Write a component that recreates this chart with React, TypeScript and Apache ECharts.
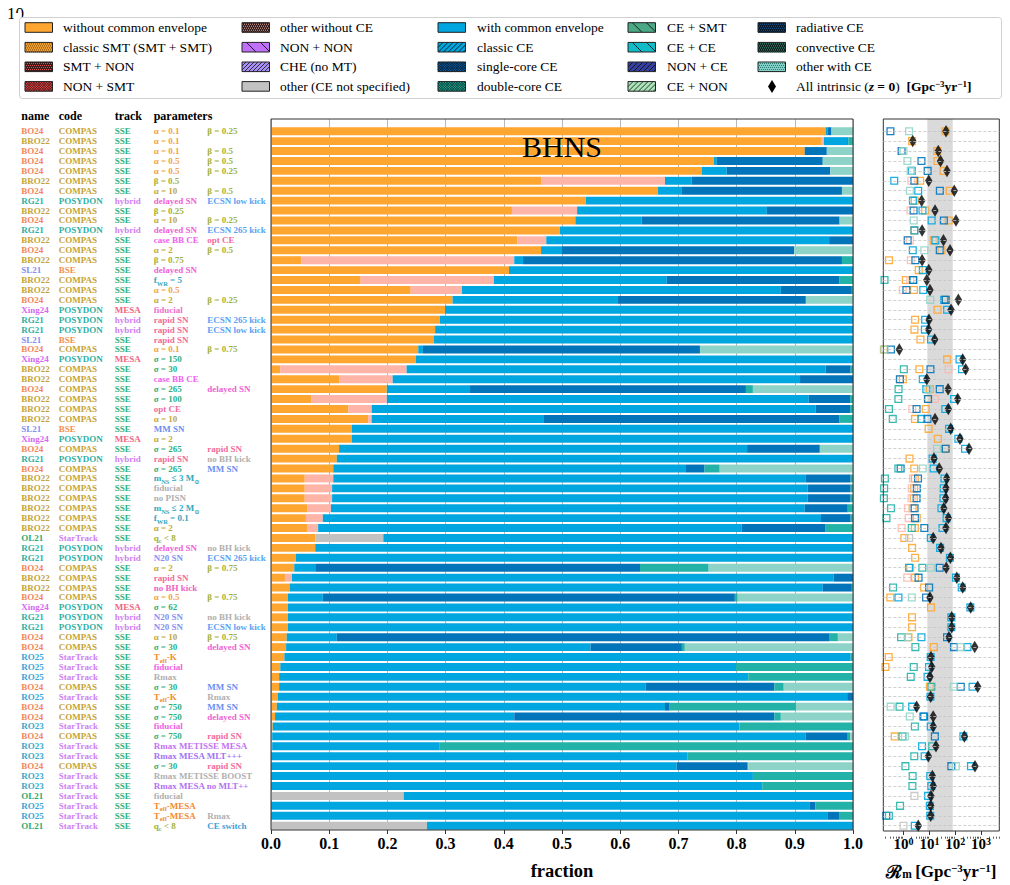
import React, { useEffect, useRef } from "react";
import * as echarts from "echarts";

// ---------------- data ----------------
const names = ["BO24","BRO22","BO24","BO24","BO24","BRO22","BO24","RG21","BRO22","BO24",
  "RG21","BRO22","BO24","BRO22","SL21","BRO22","BRO22","BO24","Xing24","RG21",
  "RG21","SL21","BO24","Xing24","BRO22","BRO22","BO24","BRO22","BRO22","BRO22",
  "SL21","Xing24","BO24","RG21","BO24","BRO22","BRO22","BRO22","BRO22","BRO22",
  "BRO22","OL21","RG21","RG21","BO24","BRO22","BRO22","BO24","Xing24","RG21",
  "RG21","BO24","BO24","RO25","RO25","RO25","BO24","RO25","BO24","BO24",
  "RO23","BO24","RO23","RO23","BO24","RO23","RO23","OL21","RO25","RO25","OL21"];

const codeOf: Record<string, string> = { BO24: "COMPAS", BRO22: "COMPAS", RG21: "POSYDON", Xing24: "POSYDON", SL21: "BSE", OL21: "StarTrack", RO25: "StarTrack", RO23: "StarTrack" };
const trackOf: Record<string, string> = { BO24: "SSE", BRO22: "SSE", RG21: "hybrid", Xing24: "MESA", SL21: "SSE", OL21: "SSE", RO25: "SSE", RO23: "SSE" };

const param1 = ["α = 0.1","α = 0.1","α = 0.1","α = 0.5","α = 0.5","β = 0.5","α = 10","delayed SN","β = 0.25","α = 10",
  "delayed SN","case BB CE","α = 2","β = 0.75","delayed SN","f_{WR} = 5","α = 0.5","α = 2","fiducial","rapid SN",
  "rapid SN","rapid SN","α = 0.1","σ = 150","σ = 30","case BB CE","σ = 265","σ = 100","opt CE","α = 10",
  "MM SN","α = 2","σ = 265","rapid SN","σ = 265","m_{NS} ≤ 3 M_{⊙}","fiducial","no PISN","m_{NS} ≤ 2 M_{⊙}","f_{WR} = 0.1",
  "α = 2","q_{c} < 8","delayed SN","N20 SN","α = 2","rapid SN","no BH kick","α = 0.5","σ = 62","N20 SN",
  "N20 SN","α = 10","σ = 30","T_{eff}-K","fiducial","Rmax","σ = 30","T_{eff}-K","σ = 750","σ = 750",
  "fiducial","σ = 750","Rmax METISSE MESA","Rmax MESA MLT+++","σ = 30","Rmax METISSE BOOST","Rmax MESA no MLT++","fiducial","T_{eff}-MESA","T_{eff}-MESA","q_{c} < 8"];

const param2 = ["β = 0.25","","β = 0.5","β = 0.5","β = 0.25","","β = 0.5","ECSN low kick","","β = 0.25",
  "ECSN 265 kick","opt CE","β = 0.5","","","","","β = 0.25","","ECSN 265 kick",
  "ECSN low kick","","β = 0.75","","","","delayed SN","","","",
  "","","rapid SN","no BH kick","MM SN","","","","","",
  "","","no BH kick","ECSN 265 kick","β = 0.75","","","β = 0.75","","no BH kick",
  "ECSN low kick","β = 0.75","delayed SN","","","","MM SN","Rmax","MM SN","delayed SN",
  "","rapid SN","","","rapid SN","","","","","Rmax","CE switch"];

// fractions of each formation channel (stacked bars)
const fracNoCE = [0.953,0.945,0.917,0.761,0.740,0.465,0.665,0.541,0.414,0.523,
  0.496,0.423,0.464,0.052,0.409,0.154,0.240,0.312,0.299,0.290,
  0.282,0.280,0.253,0.249,0.016,0.118,0.199,0.069,0.133,0.167,
  0.139,0.139,0.117,0.113,0.107,0.058,0.058,0.058,0.062,0.060,
  0.062,0.076,0.076,0.043,0.040,0.024,0.032,0.029,0.029,0.029,
  0.029,0.027,0.026,0.023,0.016,0.014,0.014,0.012,0.010,0.007,
  0.003,0.002,0,0,0,0,0,0,0,0,0];
const fracOtherNoCE = [0,0.005,0,0,0,0.212,0,0,0.112,0,
  0,0.050,0,0.366,0,0.229,0.088,0,0,0,
  0,0,0,0,0.217,0.091,0,0.130,0.040,0.006,
  0,0,0,0,0,0.049,0.047,0.047,0.041,0.029,
  0.019,0,0,0,0,0.012,0,0,0,0,
  0,0,0,0,0,0,0,0,0,0,
  0,0,0,0,0,0,0,0,0,0,0];
const fracUnspecCE = [0,0,0,0,0,0,0,0,0,0,
  0,0,0,0,0,0,0,0,0,0,
  0,0,0,0,0,0,0,0,0,0,
  0,0,0,0,0,0,0,0,0,0,
  0,0.117,0,0,0,0,0,0,0,0,
  0,0,0,0,0,0,0,0,0,0,
  0,0,0.002,0,0,0,0,0.228,0,0,0.268];
const fracWithCE = [0.003,0.040,0,0.005,0.043,0.046,0.040,0.459,0.326,0.114,
  0.504,0.486,0.036,0.015,0.591,0.297,0.548,0.283,0.701,0.710,
  0.718,0.720,0.008,0.751,0.720,0.700,0.143,0.725,0.763,0.296,
  0.861,0.861,0.701,0.887,0.606,0.812,0.817,0.817,0.814,0.856,
  0.728,0.807,0.924,0.957,0.036,0.931,0.916,0.060,0.971,0.971,
  0.971,0.086,0.523,0.973,0.783,0.806,0.630,0.978,0.667,0.411,
  0.802,0.917,0.288,0.716,0.697,0.828,0.844,0.772,0.926,0.957,0.732];
const fracSingleCore = [0.007,0.002,0.038,0.182,0.178,0.277,0.276,0,0.148,0.340,
  0,0.041,0.399,0.548,0,0.297,0.122,0.324,0,0,
  0,0,0.476,0,0.043,0.091,0.474,0.071,0.059,0.508,
  0,0,0.125,0,0.032,0.077,0.074,0.074,0.074,0.051,
  0.144,0,0,0,0.558,0.033,0.050,0.708,0,0,
  0,0.847,0.157,0,0,0,0.221,0.010,0.008,0.447,
  0,0.072,0,0,0.121,0,0,0,0.009,0.019,0];
const fracCECE = [0,0.008,0,0,0,0,0,0,0,0,
  0,0,0,0.019,0,0.023,0.002,0,0,0,
  0,0,0,0,0.004,0,0.012,0.005,0.005,0.023,
  0,0,0,0,0.026,0.004,0.004,0.004,0.009,0.004,
  0.047,0,0,0,0.118,0,0.002,0.005,0,0,
  0,0.014,0.005,0.004,0.201,0.180,0.016,0,0.217,0.011,
  0.195,0.004,0.710,0.284,0.002,0.172,0.156,0,0.065,0.024,0];
const fracOtherCE = [0.037,0,0.045,0.052,0.039,0,0.019,0,0,0.023,
  0,0,0.101,0,0,0,0,0.081,0,0,
  0,0,0.263,0,0,0,0.172,0,0,0,
  0,0,0.057,0,0.229,0,0,0,0,0,
  0,0,0,0,0.248,0,0,0.198,0,0,
  0,0.026,0.289,0,0,0,0.119,0,0.098,0.124,
  0,0.005,0,0,0.180,0,0,0,0,0,0];

// all intrinsic merger rate at z = 0 [Gpc^-3 yr^-1]
const intrinsicRate = [44,2.25,22,27,48,9.4,92,5.0,16.5,107,
  5.2,35,63,5.2,9.4,7.9,10.5,132,69,9.6,
  9.3,16,0.68,195,255,7.9,53,125,54,16.5,
  67,153,343,15,24,47,44,43,36,54,
  44,14,28,65,45,115,195,10.5,398,73,
  73,57,570,11.5,12.3,10.5,745,11.2,3.2,14,
  14,226,18,9.1,585,13,14,11.5,11.2,11.2,3.7];

const bandRange = [8.3, 80];
const fracTicks = [0, 1];
const rateMajorTicks = [1, 10, 100, 1000];
const rateMinorTicks = [0.2,0.3,0.4,0.5,0.6,0.7,0.8,0.9,2,3,4,5,6,7,8,9,20,30,40,50,60,70,80,90,200,300,400,500,600,700,800,900,2000,3000,4000,5000];

// ---------------- styling ----------------
const FONT = "'Liberation Serif', 'DejaVu Serif', serif";
const channels = [
  { name: "without common envelope", data: fracNoCE, color: "#ffa630", op: 0.9 },
  { name: "other without CE", data: fracOtherNoCE, color: "#ffb4a8", op: 0.8 },
  { name: "other (CE not specified)", data: fracUnspecCE, color: "#c2c2c2", op: 0.85 },
  { name: "with common envelope", data: fracWithCE, color: "#00a6e0", op: 0.9 },
  { name: "single-core CE", data: fracSingleCore, color: "#0274ba", op: 0.9 },
  { name: "CE + CE", data: fracCECE, color: "#22b2a8", op: 0.9 },
  { name: "other with CE", data: fracOtherCE, color: "#8dd3c7", op: 0.85 },
];

const nameColor: Record<string, string> = { BO24: "#f4845c", BRO22: "#c4a43a", RG21: "#2fb0a6", SL21: "#7f8ff2", Xing24: "#d468f2", OL21: "#2eaa6e", RO25: "#3ea3d6", RO23: "#3ea6c8" };
const codeColor: Record<string, string> = { COMPAS: "#c4a43a", POSYDON: "#2fb0a6", BSE: "#f5904e", StarTrack: "#cf7ff2" };
const trackColor: Record<string, string> = { SSE: "#2eb07e", hybrid: "#cf7ff2", MESA: "#f2637e" };
const p1Color: Record<string, string> = {
  "α = 0.1": "#f5a23c", "α = 0.5": "#f5a23c", "α = 2": "#c2a83a", "α = 10": "#c2a83a",
  "delayed SN": "#f062d6", "rapid SN": "#f26c9c", "MM SN": "#6a8ff2", "N20 SN": "#8a8ff2",
  "case BB CE": "#f062f0", "opt CE": "#f26aa2", "no PISN": "#b0b0b0", "no BH kick": "#f062c6",
  "fiducial": "#b0b0b0", "Rmax": "#b0b0b0", "Rmax METISSE MESA": "#c272f2", "Rmax MESA MLT+++": "#a472f2",
  "Rmax METISSE BOOST": "#b0b0b0", "Rmax MESA no MLT++": "#b472f2",
};
const fiducialColor: Record<string, string> = { Xing24: "#f070d0", RO25: "#f062e2", RO23: "#f062e2" };
const p2Color: Record<string, string> = {
  "ECSN low kick": "#5aa2f2", "ECSN 265 kick": "#5aa2f2", "opt CE": "#f26aa2", "delayed SN": "#f062d6",
  "rapid SN": "#f26c9c", "MM SN": "#6a8ff2", "no BH kick": "#b0b0b0", "Rmax": "#b0b0b0", "CE switch": "#3aa2d8",
};
function colorP1(name: string, t: string) {
  if (t === "fiducial" && fiducialColor[name]) return fiducialColor[name];
  if (p1Color[t]) return p1Color[t];
  if (t.startsWith("β") || t.startsWith("q_")) return "#a3b23c";
  if (t.startsWith("σ")) return "#2eb07e";
  if (t.startsWith("f_") || t.startsWith("m_")) return "#2fa9bf";
  if (t.startsWith("T_")) return "#f28a2e";
  return "#888";
}
function colorP2(t: string) {
  if (p2Color[t]) return p2Color[t];
  if (t.startsWith("β")) return "#a3b23c";
  return "#888";
}

// geometry
const L_LEFT = 271, L_W = 582;
const R_LEFT = 883.3, R_W = 116;
const FRAME_TOP = 119, FRAME_H = 717.7;
const BAR_TOP = 126.24, BAR_H = 704.4;
const R_MIN = 0.163, R_MAX = 5117;

function cellText(text: string, color: string, size: number, x: number, y: number) {
  const parts: string[] = [];
  const re = /_\{([^}]*)\}/g;
  let last = 0;
  let m: RegExpExecArray | null;
  while ((m = re.exec(text))) {
    if (m.index > last) parts.push(`{m|${text.slice(last, m.index)}}`);
    parts.push(`{s|${m[1]}}`);
    last = re.lastIndex;
  }
  if (last < text.length) parts.push(`{m|${text.slice(last)}}`);
  return {
    type: "text", x, y, silent: true, z: 10,
    style: {
      text: parts.join(""), fill: color, fontSize: size, fontWeight: "bold", fontFamily: FONT,
      align: "left", verticalAlign: "middle",
      rich: {
        m: { fill: color, fontSize: size, fontWeight: "bold", fontFamily: FONT, lineHeight: 12, verticalAlign: "middle" },
        s: { fill: color, fontSize: size * 0.72, fontWeight: "bold", fontFamily: FONT, lineHeight: 7, verticalAlign: "bottom" },
      },
    },
  };
}

function hatch(x: number, y: number, w: number, h: number, dir: string, step: number, color: string, lw: number) {
  const out: any[] = [];
  for (let t = -h; t < w; t += step) {
    const lo = Math.max(0, -t), hi = Math.min(h, w - t);
    if (hi <= lo) continue;
    if (dir === "/") out.push({ type: "line", silent: true, z: 10, shape: { x1: x + t + lo, y1: y + h - lo, x2: x + t + hi, y2: y + h - hi }, style: { stroke: color, lineWidth: lw } });
    else out.push({ type: "line", silent: true, z: 10, shape: { x1: x + t + lo, y1: y + lo, x2: x + t + hi, y2: y + hi }, style: { stroke: color, lineWidth: lw } });
  }
  return out;
}
function dots(x: number, y: number, w: number, h: number, color: string) {
  const out: any[] = [];
  let k = 0;
  for (let yy = y + 1.5; yy < y + h; yy += 2, k++) {
    out.push({ type: "line", silent: true, z: 10, shape: { x1: x, y1: yy, x2: x + w, y2: yy }, style: { stroke: color, lineWidth: 1, lineDash: [1, 1], lineDashOffset: k % 2 } });
  }
  return out;
}

const legendCols = [
  [
    { label: "without common envelope", fill: "#ffa630" },
    { label: "classic SMT (SMT + SMT)", fill: "#f0a030", dots: "#7a4608" },
    { label: "SMT + NON", fill: "#3b1a1a", dots: "#e05050" },
    { label: "NON + SMT", fill: "#e84848", cross: "#3a1010" },
  ],
  [
    { label: "other without CE", fill: "#2a1c1c", dots: "#f0a898" },
    { label: "NON + NON", fill: "#c070f8", back: "#111", step: 14 },
    { label: "CHE (no MT)", fill: "#a890f8", fwd: "#222", step: 4 },
    { label: "other (CE not specified)", fill: "#c2c2c2" },
  ],
  [
    { label: "with common envelope", fill: "#00a6e0" },
    { label: "classic CE", fill: "#00a6e0", fwd: "#111", step: 5 },
    { label: "single-core CE", fill: "#0a5a9a", cross: "#021a30" },
    { label: "double-core CE", fill: "#20a898", cross: "#06302a" },
  ],
  [
    { label: "CE + SMT", fill: "#4aa884", back: "#111", step: 14 },
    { label: "CE + CE", fill: "#10bcc8", back: "#111", step: 14 },
    { label: "NON + CE", fill: "#3440a0", fwd: "#111", step: 5 },
    { label: "CE + NON", fill: "#a8e4b8", fwd: "#222", step: 5 },
  ],
  [
    { label: "radiative CE", fill: "#061426", dots: "#1a6aa8" },
    { label: "convective CE", fill: "#0e1e1a", dots: "#40a090" },
    { label: "other with CE", fill: "#80d0c8", dots: "#2a7a70" },
    { label: "__diamond__", fill: "" },
  ],
];
const legSwatchX = [25, 242, 438, 628, 758];
const legTextX = [63, 280, 477, 667, 796];
const legRowY = [27.5, 47.2, 66.8, 86.4];

function buildGraphics(rowY: number[]) {
  const els: any[] = [];
  // stray offset text at the top-left, partly hidden by the legend frame
  els.push({ type: "text", x: 7, y: 5, silent: true, z: 9, style: { text: "10", fontSize: 17, fontFamily: FONT, fill: "#000" } });
  els.push({ type: "rect", silent: true, z: 9, shape: { x: 13.5, y: 13, width: 8, height: 6 }, style: { fill: "#fff" } });
  els.push({ type: "rect", silent: true, z: 10, shape: { x: 19.5, y: 17.5, width: 982, height: 81, r: 3 }, style: { fill: "#fff", stroke: "#d0d0d0", lineWidth: 1 } });
  legendCols.forEach((col, ci) => {
    col.forEach((e: any, ri) => {
      const cy = legRowY[ri];
      const sx = legSwatchX[ci], sw = 27.5, sh = 9.6, sy = cy - sh / 2;
      if (e.label === "__diamond__") {
        const dx = sx + 14;
        els.push({ type: "polygon", silent: true, z: 10, shape: { points: [[dx, cy - 6.5], [dx + 4, cy], [dx, cy + 6.5], [dx - 4, cy]] }, style: { fill: "#000" } });
        els.push({
          type: "text", x: legTextX[ci], y: cy, silent: true, z: 10,
          style: {
            text: "All intrinsic ({i|z} {b|= 0})  {b|[Gpc}{p|−3}{b|yr}{p|−1}{b|]}", fontSize: 13.5, fontFamily: FONT, fill: "#000", verticalAlign: "middle",
            rich: {
              i: { fontSize: 13.5, fontFamily: FONT, fontWeight: "bold", fontStyle: "italic", fill: "#000" },
              b: { fontSize: 13.5, fontFamily: FONT, fontWeight: "bold", fill: "#000" },
              p: { fontSize: 9, fontFamily: FONT, fontWeight: "bold", fill: "#000", verticalAlign: "top" },
            },
          },
        });
        return;
      }
      els.push({ type: "rect", silent: true, z: 10, shape: { x: sx, y: sy, width: sw, height: sh }, style: { fill: e.fill } });
      if (e.dots) els.push(...dots(sx, sy, sw, sh, e.dots));
      if (e.cross) { els.push(...hatch(sx, sy, sw, sh, "/", 2.5, e.cross, 0.7)); els.push(...hatch(sx, sy, sw, sh, "\\", 2.5, e.cross, 0.7)); }
      if (e.fwd) els.push(...hatch(sx, sy, sw, sh, "/", e.step, e.fwd, 0.9));
      if (e.back) els.push(...hatch(sx, sy, sw, sh, "\\", e.step, e.back, 0.9));
      els.push({ type: "rect", silent: true, z: 10, shape: { x: sx, y: sy, width: sw, height: sh }, style: { fill: "none", stroke: "#222", lineWidth: 1 } });
      els.push({ type: "text", x: legTextX[ci], y: cy, silent: true, z: 10, style: { text: e.label, fontSize: 13.5, fontFamily: FONT, fill: "#000", verticalAlign: "middle" } });
    });
  });
  // title inside panel (drawn above the bars)
  els.push({ type: "text", x: 562, y: 146, silent: true, z: 50, style: { text: "BHNS", fontSize: 30, fontFamily: FONT, fill: "#000", align: "center", verticalAlign: "middle" } });
  // table header
  const colX = [21.3, 58.7, 114.7, 153.7, 207.3];
  ["name", "code", "track", "parameters"].forEach((h, i) => {
    els.push({ type: "text", x: colX[i], y: 115.7, silent: true, z: 10, style: { text: h, fontSize: 12, fontWeight: "bold", fontFamily: FONT, fill: "#000", verticalAlign: "middle" } });
  });
  names.forEach((nm, i) => {
    const y = rowY[i];
    const code = codeOf[nm], track = trackOf[nm];
    els.push(cellText(nm, nameColor[nm], 9, colX[0], y));
    els.push(cellText(code, codeColor[code], 9, colX[1], y));
    els.push(cellText(track, trackColor[track], 9, colX[2], y));
    if (param1[i]) els.push(cellText(param1[i], colorP1(nm, param1[i]), 9, colX[3], y));
    if (param2[i]) els.push(cellText(param2[i], colorP2(param2[i]), 9, colX[4], y));
  });
  return els;
}

function buildOption() {
  const cats = names.map((_, i) => String(i));
  const axisText = { fontFamily: FONT, fontWeight: "bold", color: "#000" };
  const series: any[] = [];
  channels.forEach((c) => {
    series.push({
      type: "bar", name: c.name, xAxisIndex: 0, yAxisIndex: 0, stack: "frac", barWidth: "80%",
      data: c.data, itemStyle: { color: c.color }, silent: true, z: 2,
    });
  });
  // grey band (observed range)
  series.push({
    type: "scatter", xAxisIndex: 2, yAxisIndex: 2, data: [[1, 0.5]], symbolSize: 0, silent: true, z: 1,
    markArea: { silent: true, itemStyle: { color: "#dadada" }, data: [[{ xAxis: bandRange[0] }, { xAxis: bandRange[1] }]] },
  });
  // dashed row guides
  series.push({
    type: "scatter", xAxisIndex: 3, yAxisIndex: 3, data: [[1, 0]], symbolSize: 0, silent: true, z: 2,
    markLine: {
      silent: true, symbol: ["none", "none"], label: { show: false },
      lineStyle: { color: "#c4c4c4", width: 0.8, type: [3, 2] },
      data: cats.map((_, i) => ({ yAxis: i })),
    },
  });
  // per-channel rates (hollow squares)
  channels.forEach((c) => {
    const pts: number[][] = [];
    c.data.forEach((f, i) => { if (f > 0) pts.push([f * intrinsicRate[i], i]); });
    series.push({
      type: "scatter", xAxisIndex: 3, yAxisIndex: 3, data: pts, symbol: "rect", symbolSize: 6.8, clip: true, silent: true, z: 3,
      itemStyle: { color: "rgba(0,0,0,0)", borderColor: c.color, borderWidth: 1.3, opacity: c.op },
    });
  });
  series.push({
    type: "scatter", name: "All intrinsic", xAxisIndex: 3, yAxisIndex: 3, data: intrinsicRate.map((v, i) => [v, i]),
    symbol: "diamond", symbolSize: [7.5, 12.5], itemStyle: { color: "#000" }, clip: true, silent: true, z: 4,
  });

  const logLabel = (v: number) => {
    const e = Math.log10(v);
    if (Math.abs(e - Math.round(e)) > 1e-6) return "";
    return `{b|10}{e|${Math.round(e)}}`;
  };

  return {
    animation: false,
    backgroundColor: "#fff",
    grid: [
      { left: L_LEFT, width: L_W, top: BAR_TOP, height: BAR_H },
      { left: L_LEFT, width: L_W, top: FRAME_TOP, height: FRAME_H, show: true, borderColor: "#333", borderWidth: 1, backgroundColor: "transparent", z: 5 },
      { left: R_LEFT, width: R_W, top: FRAME_TOP, height: FRAME_H, show: true, borderColor: "#333", borderWidth: 1, backgroundColor: "transparent", z: 5 },
      { left: R_LEFT, width: R_W, top: BAR_TOP, height: BAR_H },
    ],
    xAxis: [
      { gridIndex: 0, type: "value", min: fracTicks[0], max: fracTicks[1], show: false },
      {
        gridIndex: 1, type: "value", min: fracTicks[0], max: fracTicks[1], interval: 0.1,
        axisLine: { show: false },
        axisTick: { show: true, inside: false, length: 4, lineStyle: { color: "#333" } },
        splitLine: { show: true, lineStyle: { color: "#b8b8b8", width: 1 } },
        axisLabel: { ...axisText, fontSize: 16, margin: 5, formatter: (v: number) => v.toFixed(1) },
        name: "fraction", nameLocation: "middle", nameGap: 31,
        nameTextStyle: { ...axisText, fontSize: 18.5 },
      },
      {
        gridIndex: 2, type: "log", logBase: 10, min: R_MIN, max: R_MAX,
        axisLine: { show: false },
        axisTick: { show: true, inside: false, length: 4, customValues: rateMajorTicks, lineStyle: { color: "#333" } },
        splitLine: { show: false },
        axisLabel: {
          customValues: rateMajorTicks, margin: 5, formatter: logLabel,
          rich: {
            b: { ...axisText, fontSize: 15 },
            e: { ...axisText, fontSize: 10, verticalAlign: "top" },
          },
        },
        name: "{r|ℛ}{s|m} {b|[Gpc}{p|−3}{b|yr}{p|−1}{b|]}", nameLocation: "middle", nameGap: 31,
        nameTextStyle: {
          rich: {
            r: { ...axisText, fontSize: 18, fontFamily: "'DejaVu Serif', serif" },
            s: { ...axisText, fontSize: 11.5, verticalAlign: "bottom" },
            b: { ...axisText, fontSize: 17 },
            p: { ...axisText, fontSize: 11, verticalAlign: "top" },
          },
        },
      },
      {
        gridIndex: 3, type: "log", logBase: 10, min: R_MIN, max: R_MAX, show: true,
        offset: FRAME_TOP + FRAME_H - (BAR_TOP + BAR_H),
        axisLine: { show: false }, axisLabel: { show: false }, splitLine: { show: false },
        axisTick: { show: true, inside: false, length: 2, customValues: rateMinorTicks, lineStyle: { color: "#333", width: 0.8 } },
      },
    ],
    yAxis: [
      { gridIndex: 0, type: "category", data: cats, inverse: true, show: false },
      { gridIndex: 1, type: "value", min: 0, max: 1, show: false },
      { gridIndex: 2, type: "value", min: 0, max: 1, show: false },
      { gridIndex: 3, type: "category", data: cats, inverse: true, show: false },
    ],
    series,
  };
}

export default function App() {
  const ref = useRef<HTMLDivElement>(null);
  useEffect(() => {
    const el = ref.current;
    if (!el) return;
    const chart = echarts.init(el, null, { renderer: "svg" });
    chart.setOption(buildOption() as any);
    const rowY = names.map((_, i) => {
      const v = chart.convertToPixel({ yAxisIndex: 0 } as any, i) as any;
      return typeof v === "number" && isFinite(v) ? v : BAR_TOP + (i + 0.5) * (BAR_H / names.length);
    });
    chart.setOption({ graphic: { elements: buildGraphics(rowY) } } as any);
    return () => chart.dispose();
  }, []);
  return <div ref={ref} style={{ position: "absolute", left: 0, top: 0, width: 1010, height: 885 }} />;
}
